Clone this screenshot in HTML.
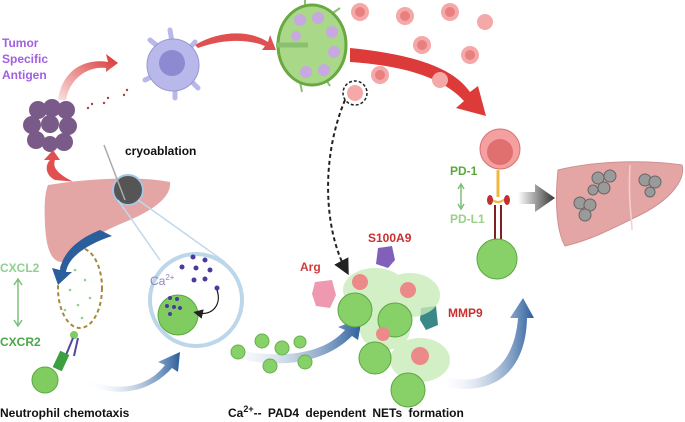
<!DOCTYPE html>
<html><head><meta charset="utf-8"><style>
html,body{margin:0;padding:0;background:#fff;width:685px;height:422px;overflow:hidden}
svg{display:block;font-family:"Liberation Sans",sans-serif;font-weight:bold}
</style></head><body>
<svg width="685" height="422" viewBox="0 0 685 422" xmlns="http://www.w3.org/2000/svg">
<defs>
<linearGradient id="rg" x1="0" y1="1" x2="1" y2="0"><stop offset="0" stop-color="#fbe0e0"/><stop offset="1" stop-color="#d83030"/></linearGradient>
<linearGradient id="bg" x1="0" y1="0" x2="1" y2="0"><stop offset="0" stop-color="#fff" stop-opacity="0"/><stop offset="1" stop-color="#2a5e9c"/></linearGradient>
<linearGradient id="gg" x1="0" y1="0" x2="1" y2="0"><stop offset="0" stop-color="#fff"/><stop offset="1" stop-color="#333"/></linearGradient>
<marker id="ah" markerWidth="8" markerHeight="8" refX="4" refY="4" orient="auto"><path d="M0,0L8,4L0,8z" fill="#222"/></marker>
</defs>
<text x="2" y="47" font-size="12" fill="#a060e0">Tumor</text>
<text x="2" y="63" font-size="12" fill="#a060e0">Specific</text>
<text x="2" y="79" font-size="12" fill="#a060e0">Antigen</text>
<text x="125" y="155" font-size="12" fill="#111">cryoablation</text>
<g fill="#7a5a88">
<circle cx="38" cy="110" r="9"/><circle cx="52" cy="108" r="9"/><circle cx="66" cy="110" r="9"/>
<circle cx="32" cy="125" r="9"/><circle cx="50" cy="124" r="9"/><circle cx="68" cy="126" r="9"/>
<circle cx="36" cy="140" r="9"/><circle cx="50" cy="144" r="8"/><circle cx="64" cy="142" r="9"/>
</g>
<path d="M58,100 C62,70 85,58 108,62 L106,54 L118,63 L106,72 L106,68 C88,66 70,78 66,100z" fill="url(#rg)"/>
<path d="M195,45 C220,30 250,30 268,42 L270,35 L276,50 L262,50 L265,46 C245,38 220,40 198,48z" fill="#e05050"/>
<path d="M55,180 C45,175 45,165 50,160 L44,160 L53,150 L60,160 L55,160 C52,168 58,175 80,185 L110,185z" fill="#e05050"/>
<path d="M350,48 C420,55 455,70 470,92 L478,86 L486,116 L456,108 L464,101 C445,80 410,66 350,62z" fill="#dd3a3a"/>
<g fill="#b04040"><circle cx="88" cy="108" r="1.2"/><circle cx="92" cy="104" r="1.2"/><circle cx="104" cy="103" r="1.2"/><circle cx="108" cy="98" r="1.2"/><circle cx="124" cy="95" r="1.2"/><circle cx="127" cy="90" r="1.2"/></g>
<g fill="#b9b8ea" stroke="#9a98d0" stroke-width="1">
<path d="M150,40 L160,48 M170,30 L172,42 M195,42 L188,50 M145,80 L155,75 M175,98 L175,88 M198,88 L190,80" stroke="#b9b8ea" stroke-width="5" stroke-linecap="round"/>
<circle cx="173" cy="65" r="26"/>
</g>
<circle cx="172" cy="63" r="13" fill="#8c8ad0"/>
<g>
<path d="M305,8 L305,0 M330,15 L340,8 M338,45 L346,48 M325,78 L330,86 M300,82 L302,92" stroke="#8bc070" stroke-width="2"/>
<ellipse cx="312" cy="45" rx="34" ry="40" fill="#a8d888" stroke="#6aa840" stroke-width="3"/>
<g fill="#c8a8e0"><circle cx="300" cy="20" r="6"/><circle cx="318" cy="18" r="6"/><circle cx="332" cy="32" r="6"/><circle cx="334" cy="52" r="6"/><circle cx="324" cy="70" r="6"/><circle cx="306" cy="72" r="6"/><circle cx="296" cy="36" r="5"/></g>
<path d="M276,45 L308,45" stroke="#8bc070" stroke-width="5"/>
</g>
<g fill="#f4a8a8"><circle cx="360" cy="12" r="9"/><circle cx="405" cy="16" r="9"/><circle cx="450" cy="12" r="9"/><circle cx="485" cy="22" r="8"/><circle cx="380" cy="75" r="9"/><circle cx="422" cy="45" r="9"/><circle cx="470" cy="55" r="9"/><circle cx="440" cy="80" r="8"/></g>
<g fill="#e88080"><circle cx="360" cy="12" r="5"/><circle cx="405" cy="16" r="5"/><circle cx="450" cy="12" r="5"/><circle cx="380" cy="75" r="5"/><circle cx="422" cy="45" r="5"/><circle cx="470" cy="55" r="5"/></g>
<circle cx="355" cy="93" r="8" fill="#f4a8a8"/><circle cx="355" cy="93" r="12" fill="none" stroke="#222" stroke-width="1.5" stroke-dasharray="3,2"/>
<path d="M345,100 C320,160 325,230 345,268" fill="none" stroke="#222" stroke-width="2" stroke-dasharray="4,3" marker-end="url(#ah)"/>
<!-- liver left -->
<path d="M48,185 C90,178 140,176 170,182 C172,198 150,212 125,222 C100,232 80,245 62,262 C50,262 46,245 45,225 C44,205 45,192 48,185z" fill="#e4a6a4"/>
<circle cx="128" cy="190" r="15" fill="#555" stroke="#a8c4e0" stroke-width="2"/>
<line x1="104" y1="145" x2="125" y2="200" stroke="#aaa" stroke-width="1.5"/>
<line x1="118" y1="200" x2="160" y2="260" stroke="#c0d8ec" stroke-width="1.5"/>
<line x1="138" y1="200" x2="225" y2="262" stroke="#c0d8ec" stroke-width="1.5"/>
<circle cx="196" cy="300" r="46" fill="#fff" stroke="#bcd6ea" stroke-width="4"/>
<text x="150" y="285" font-size="12" fill="#9080c0" font-weight="normal">Ca<tspan font-size="8" dy="-5">2+</tspan></text>
<g fill="#4a3aa0"><circle cx="193" cy="257" r="2.5"/><circle cx="205" cy="260" r="2.5"/><circle cx="182" cy="267" r="2.5"/><circle cx="196" cy="268" r="2.5"/><circle cx="210" cy="270" r="2.5"/><circle cx="194" cy="280" r="2.5"/><circle cx="205" cy="279" r="2.5"/><circle cx="217" cy="288" r="2.5"/></g>
<circle cx="178" cy="315" r="20" fill="#80cc60" stroke="#5aa840"/>
<g fill="#4a3aa0"><circle cx="170" cy="298" r="2"/><circle cx="177" cy="299" r="2"/><circle cx="167" cy="306" r="2"/><circle cx="174" cy="307" r="2"/><circle cx="180" cy="308" r="2"/><circle cx="170" cy="314" r="2"/></g>
<path d="M217,290 C222,305 212,316 198,313" fill="none" stroke="#111" stroke-width="1.2" marker-end="url(#ah)"/>
<text x="0" y="272" font-size="12" fill="#8fd08f">CXCL2</text>
<path d="M18,280 L18,325" stroke="#7cc07c" stroke-width="1.5"/><path d="M14,285 L18,279 L22,285 M14,320 L18,326 L22,320" fill="none" stroke="#7cc07c" stroke-width="1.5"/>
<text x="0" y="346" font-size="12" fill="#4aa84a">CXCR2</text>
<ellipse cx="80" cy="288" rx="22" ry="40" fill="none" stroke="#a88838" stroke-width="2" stroke-dasharray="4,3"/>
<g fill="#8fd08f"><circle cx="75" cy="270" r="1.3"/><circle cx="85" cy="280" r="1.3"/><circle cx="70" cy="290" r="1.3"/><circle cx="90" cy="298" r="1.3"/><circle cx="78" cy="305" r="1.3"/><circle cx="65" cy="310" r="1.3"/><circle cx="82" cy="318" r="1.3"/></g>
<circle cx="74" cy="335" r="4" fill="#80cc60"/>
<path d="M66,355 L73,338 M74,356 L78,338" stroke="#5048a0" stroke-width="2"/>
<rect x="56" y="352" width="10" height="18" fill="#3aa040" transform="rotate(25 61 361)"/>
<circle cx="45" cy="380" r="13" fill="#80cc60" stroke="#5aa840"/>
<path d="M100,230 C75,240 62,255 60,270 L52,268 L58,285 L72,272 L66,272 C68,258 85,245 112,236z" fill="#2a5e9c"/>
<path d="M85,378 C120,395 150,385 165,365 L158,362 L180,352 L178,372 L172,368 C150,392 120,398 85,385z" fill="url(#bg)"/>
<path d="M215,345 C270,360 320,358 345,330 L338,327 L362,318 L358,340 L352,336 C320,368 265,370 215,352z" fill="url(#bg)"/>
<path d="M438,375 C490,392 515,360 518,318 L510,318 L523,298 L534,318 L527,318 C526,370 495,400 438,385z" fill="url(#bg)"/>
<g fill="#88d068" stroke="#66b050"><circle cx="238" cy="352" r="7"/><circle cx="262" cy="341" r="7"/><circle cx="282" cy="348" r="7"/><circle cx="270" cy="366" r="7"/><circle cx="305" cy="362" r="7"/><circle cx="300" cy="342" r="6"/></g>
<text x="300" y="271" font-size="12" fill="#d03a3a">Arg</text>
<path d="M315,282 L332,280 L336,295 L330,308 L316,306 L312,294z" fill="#ee99b0"/>
<text x="368" y="242" font-size="12" fill="#c83030">S100A9</text>
<path d="M378,248 L392,246 L395,260 L388,268 L376,264z" fill="#8060b8"/>
<text x="448" y="317" font-size="12" fill="#c83030">MMP9</text>
<path d="M421,308 L436,306 L438,325 L426,330 L420,320z" fill="#3a8888"/>
<g fill="#c8ecb8" opacity="0.8"><ellipse cx="375" cy="290" rx="32" ry="22"/><ellipse cx="410" cy="295" rx="30" ry="22"/><ellipse cx="385" cy="330" rx="25" ry="20"/><ellipse cx="420" cy="360" rx="30" ry="22"/></g>
<g fill="#88d068" stroke="#5aa840"><circle cx="355" cy="310" r="17"/><circle cx="395" cy="320" r="17"/><circle cx="375" cy="358" r="16"/><circle cx="408" cy="390" r="17"/></g>
<g fill="#ec8a8a"><circle cx="360" cy="282" r="8"/><circle cx="408" cy="290" r="8"/><circle cx="383" cy="334" r="7"/><circle cx="420" cy="356" r="9"/></g>
<text x="450" y="175" font-size="12" fill="#5aa83a">PD-1</text>
<path d="M461,185 L461,208" stroke="#7cc07c" stroke-width="1.5"/><path d="M458,189 L461,184 L464,189 M458,204 L461,209 L464,204" fill="none" stroke="#7cc07c" stroke-width="1.5"/>
<text x="450" y="223" font-size="12" fill="#9ad08a">PD-L1</text>
<circle cx="500" cy="149" r="20" fill="#f4a0a0" stroke="#d87070"/><circle cx="500" cy="152" r="13" fill="#e07070"/>
<line x1="498" y1="170" x2="498" y2="197" stroke="#f0b840" stroke-width="3"/>
<path d="M490,198 Q498,206 506,198" fill="none" stroke="#f0b840" stroke-width="2"/>
<ellipse cx="490" cy="200" rx="3" ry="5" fill="#c03030"/><ellipse cx="507" cy="200" rx="3" ry="5" fill="#c03030"/>
<path d="M495,205 L495,240 M501,205 L501,240" stroke="#802020" stroke-width="2"/>
<circle cx="497" cy="259" r="20" fill="#88d068" stroke="#5aa840"/>
<path d="M518,192 L535,192 L535,184 L555,198 L535,212 L535,204 L518,204z" fill="url(#gg)"/>
<path d="M558,170 C600,160 650,160 682,165 C686,180 670,200 640,215 C610,230 590,240 565,246 C556,230 555,200 558,170z" fill="#e4a6a4" stroke="#d09090"/>
<path d="M630,165 C628,200 632,220 632,230" stroke="#f4d0d0" stroke-width="1.5" fill="none"/>
<g fill="#9a9a9a" stroke="#666"><circle cx="598" cy="178" r="6"/><circle cx="610" cy="176" r="6"/><circle cx="604" cy="188" r="6"/><circle cx="593" cy="190" r="5"/><circle cx="580" cy="203" r="6"/><circle cx="590" cy="205" r="6"/><circle cx="585" cy="215" r="6"/><circle cx="645" cy="180" r="6"/><circle cx="655" cy="182" r="6"/><circle cx="650" cy="192" r="5"/></g>
<text x="0" y="417" font-size="12" fill="#111">Neutrophil chemotaxis</text>
<text x="228" y="417" font-size="12" fill="#111" word-spacing="3">Ca<tspan font-size="9" dy="-5">2+</tspan><tspan dy="5">-- PAD4 dependent  NETs  formation</tspan></text>
</svg>
</body></html>
